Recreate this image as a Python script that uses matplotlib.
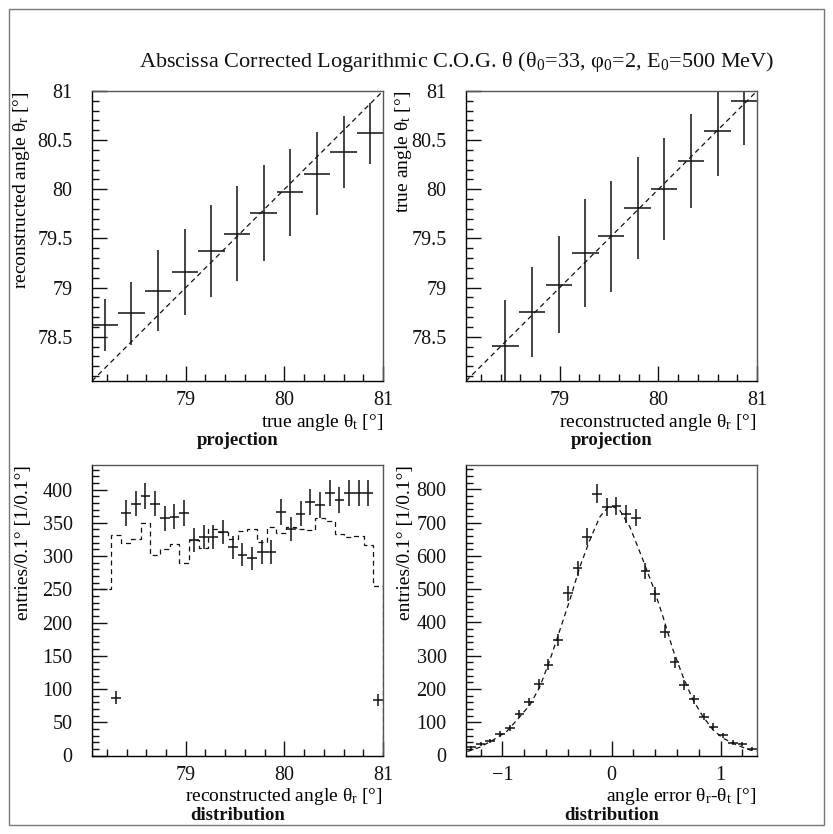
import numpy as np
import matplotlib
matplotlib.use("Agg")
import matplotlib.pyplot as plt
from matplotlib.ticker import MultipleLocator, FixedLocator
from matplotlib.patches import Rectangle

plt.rcParams['font.family'] = ['Liberation Serif', 'DejaVu Serif']
plt.rcParams['mathtext.default'] = 'regular'

# angle range of the projection / distribution plots (deg)
ang_lo, ang_hi = 78.05, 81.0

# top left: reconstructed vs true angle
tl_x = [78.18, 78.45, 78.72, 78.99, 79.26, 79.52, 79.79, 80.06, 80.33, 80.60, 80.87]
tl_y = [78.62, 78.74, 78.97, 79.16, 79.37, 79.55, 79.76, 79.97, 80.16, 80.38, 80.57]
tl_err = [0.26, 0.32, 0.41, 0.44, 0.47, 0.48, 0.49, 0.44, 0.42, 0.37, 0.31]

# top right: true vs reconstructed angle
tr_x = [78.45, 78.72, 78.99, 79.26, 79.52, 79.79, 80.06, 80.33, 80.60, 80.87]
tr_y = [78.41, 78.75, 79.03, 79.35, 79.52, 79.81, 80.00, 80.29, 80.59, 80.90]
tr_err = [0.46, 0.46, 0.49, 0.55, 0.56, 0.52, 0.52, 0.48, 0.45, 0.45]
proj_halfw = 0.134

# bottom left: reconstructed angle distribution (30 bins)
bl_counts = [np.nan, np.nan, 87, 365, 379, 390, 379, 357, 359, 365, 324, 329, 328, 336, 313,
             302, 297, 306, 306, 366, 341, 364, 382, 377, 395, 385, 395, 395, 395, 84]
bl_true = [250, 250, 332, 320, 325, 349, 302, 310, 318, 290, 324, 312, 340, 336, 325,
           338, 341, 321, 344, 335, 344, 341, 339, 358, 353, 333, 329, 330, 316, 255]

# bottom right: angle error distribution (30 bins) and fit curve
err_lo, err_hi = -1.333, 1.333
br_counts = [25, 35, 44, 65, 82, 125, 161, 215, 273, 347, 487, 562, 657, 787, 747,
             749, 727, 715, 554, 484, 372, 280, 212, 169, 117, 87, 61, 39, 35, 21]
fit_x = [-1.32, -1.205, -1.083, -0.961, -0.839, -0.747, -0.656, -0.564, -0.473, -0.382,
         -0.29, -0.199, -0.107, -0.031, 0.0, 0.076, 0.168, 0.229, 0.289, 0.381, 0.472,
         0.564, 0.655, 0.747, 0.838, 0.93, 1.021, 1.144, 1.265, 1.327]
fit_y = [12, 25, 47, 72, 117, 152, 207, 287, 377, 467, 567, 647, 717, 747, 750, 737,
         687, 637, 587, 507, 417, 317, 237, 167, 117, 77, 52, 32, 17, 12]

W, H = 833, 834
fig = plt.figure(figsize=(W / 100, H / 100), dpi=100)

def px_axes(x0, y0, x1, y1):
    return fig.add_axes([x0 / W, 1 - y1 / H, (x1 - x0) / W, (y1 - y0) / H])

ax_tl = px_axes(92, 91, 383, 381)
ax_tr = px_axes(466, 91, 757, 381)
ax_bl = px_axes(92, 465, 383, 755.5)
ax_br = px_axes(466, 465, 757, 755.5)

ink = '#111111'
tick_fs = 14.5
lab_fs = 14

def style(ax):
    for s in ['top', 'right']:
        ax.spines[s].set_color('#555555')
    for s in ax.spines.values():
        s.set_linewidth(1.0)
    ax.tick_params(which='both', direction='in', top=False, right=False, width=1.0,
                   labelsize=tick_fs, colors=ink)
    ax.tick_params(which='major', length=11)
    ax.tick_params(which='minor', length=5)
    ax.tick_params(axis='y', which='major', pad=14)
    ax.tick_params(axis='x', which='major', pad=7.5)

# projection panels
for ax, x, y, e in [(ax_tl, tl_x, tl_y, tl_err), (ax_tr, tr_x, tr_y, tr_err)]:
    ax.errorbar(x, y, xerr=proj_halfw, yerr=e, fmt='none', ecolor=ink, elinewidth=1.1)
    ax.plot([ang_lo, ang_hi], [ang_lo, ang_hi], color=ink, lw=0.9, ls=(0, (4, 3)))
    ax.set_xlim(ang_lo, ang_hi)
    ax.set_ylim(ang_lo, ang_hi)
    ax.xaxis.set_major_locator(FixedLocator([79, 80, 81]))
    ax.xaxis.set_minor_locator(MultipleLocator(0.2))
    ax.yaxis.set_minor_locator(MultipleLocator(0.1))
    ax.set_yticks([78.5, 79, 79.5, 80, 80.5, 81])
    ax.set_yticklabels(['78.5', '79', '79.5', '80', '80.5', '81'])
    style(ax)

ax_tl.set_xlabel('true angle θ$_{t}$ [°]', loc='right', fontsize=lab_fs)
ax_tl.set_ylabel('reconstructed angle θ$_{r}$ [°]', loc='top', fontsize=lab_fs)
ax_tr.set_xlabel('reconstructed angle θ$_{r}$ [°]', loc='right', fontsize=lab_fs)
ax_tr.set_ylabel('true angle θ$_{t}$ [°]', loc='top', fontsize=lab_fs)

# distribution of reconstructed angle
edges = np.linspace(ang_lo, ang_hi, len(bl_true) + 1)
centers = 0.5 * (edges[:-1] + edges[1:])
halfw = 0.5 * (edges[1] - edges[0])
ax_bl.stairs(bl_true, edges, color=ink, lw=0.9, ls=(0, (4, 3)))
cnt = np.array(bl_counts, dtype=float)
ax_bl.errorbar(centers, cnt, xerr=halfw, yerr=np.sqrt(cnt), fmt='none', ecolor=ink,
               elinewidth=1.1)
ax_bl.set_xlim(ang_lo, ang_hi)
ax_bl.set_ylim(0, 437)
ax_bl.xaxis.set_major_locator(FixedLocator([79, 80, 81]))
ax_bl.xaxis.set_minor_locator(MultipleLocator(0.2))
ax_bl.yaxis.set_major_locator(MultipleLocator(50))
ax_bl.yaxis.set_minor_locator(MultipleLocator(10))
style(ax_bl)
ax_bl.set_xlabel('reconstructed angle θ$_{r}$ [°]', loc='right', fontsize=lab_fs)
ax_bl.set_ylabel('entries/0.1° [1/0.1°]', loc='top', fontsize=lab_fs)

# distribution of angle error
e_edges = np.linspace(err_lo, err_hi, len(br_counts) + 1)
e_centers = 0.5 * (e_edges[:-1] + e_edges[1:])
e_halfw = 0.5 * (e_edges[1] - e_edges[0])
bc = np.array(br_counts, dtype=float)
ax_br.errorbar(e_centers, bc, xerr=e_halfw, yerr=np.sqrt(bc), fmt='none', ecolor=ink,
               elinewidth=1.1)
ax_br.plot(fit_x, fit_y, color=ink, lw=0.9, ls=(0, (4, 3)))
ax_br.set_xlim(err_lo, err_hi)
ax_br.set_ylim(0, 873)
ax_br.xaxis.set_major_locator(FixedLocator([-1, 0, 1]))
ax_br.xaxis.set_minor_locator(MultipleLocator(0.2))
ax_br.yaxis.set_major_locator(MultipleLocator(100))
ax_br.yaxis.set_minor_locator(MultipleLocator(20))
style(ax_br)
ax_br.set_xlabel('angle error θ$_{r}$-θ$_{t}$ [°]', loc='right', fontsize=lab_fs)
ax_br.set_ylabel('entries/0.1° [1/0.1°]', loc='top', fontsize=lab_fs)

for ax in [ax_tl, ax_bl]:
    ax.yaxis.set_label_coords(-0.205, 1.0)
for ax in [ax_tr, ax_br]:
    ax.yaxis.set_label_coords(-0.18, 1.0)
for ax in [ax_tl, ax_tr, ax_bl, ax_br]:
    ax.xaxis.set_label_coords(1.0, -0.106)

# captions under the panels
for ax, txt in [(ax_tl, 'projection'), (ax_tr, 'projection'),
                (ax_bl, 'distribution'), (ax_br, 'distribution')]:
    ax.text(0.5, -0.205, txt, transform=ax.transAxes, ha='center', va='center',
            fontsize=13.5, fontweight='bold', color=ink)

fig.text(139 / W, 1 - 62 / H,
         'Abscissa Corrected Logarithmic C.O.G. θ (θ$_{0}$=33, φ$_{0}$=2, E$_{0}$=500 MeV)',
         ha='left', va='center', fontsize=16, color=ink)

fig.patches.append(Rectangle((9 / W, 9 / H), 1 - 18 / W, 1 - 18 / H, transform=fig.transFigure,
                             fill=False, edgecolor='#777777', lw=1.0))

fig.savefig('out.png', dpi=100)
